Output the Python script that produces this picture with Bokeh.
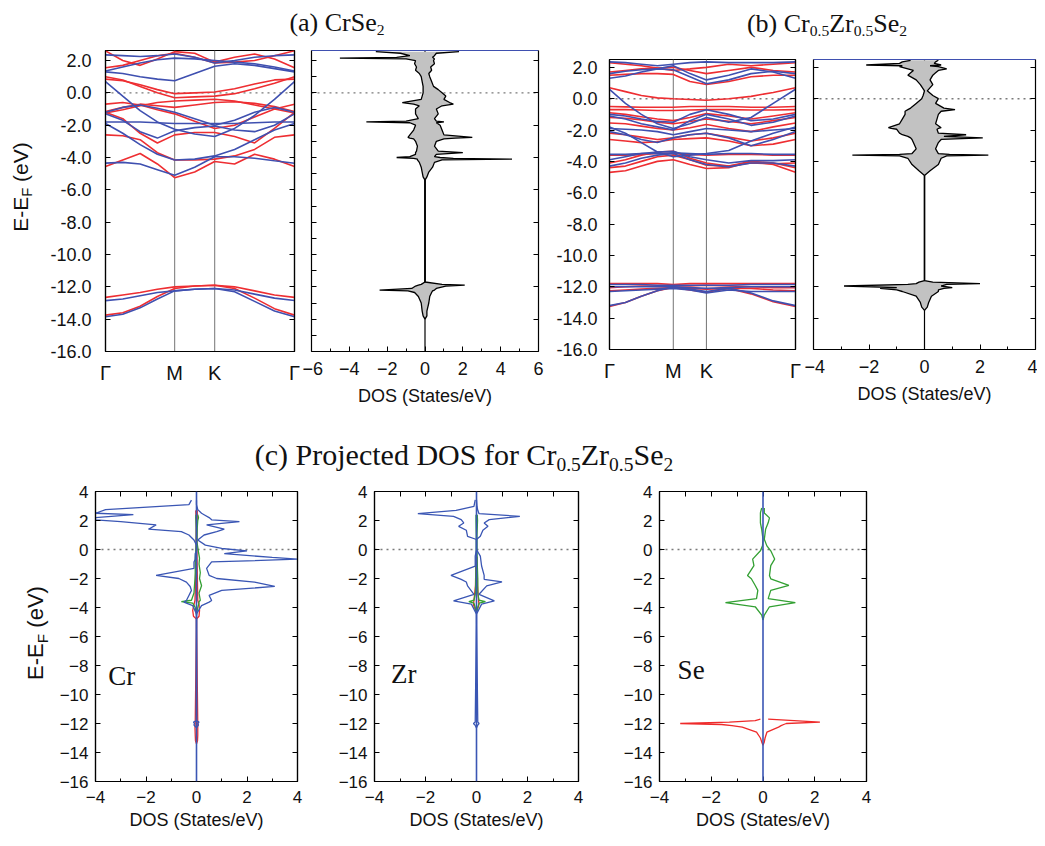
from bokeh.plotting import figure
from bokeh.models import Range1d, FixedTicker, LinearAxis, Span, Div, CustomJSTickFormatter, Spacer
from bokeh.layouts import row, column
from bokeh.embed import file_html
from bokeh.resources import INLINE
from bokeh.core.properties import value

# ---------------- data ----------------
K_POS_A = [0.0, 0.144, 0.289, 0.433, 0.577, 0.744, 0.911, 1.077, 1.244, 1.41, 1.577]
K_TICKS_A = [0.0, 0.577, 0.911, 1.577]
K_POS_B = [0.0, 0.135, 0.27, 0.406, 0.541, 0.682, 0.822, 1.011, 1.2, 1.388, 1.577]
K_TICKS_B = [0.0, 0.541, 0.822, 1.577]
K_LABELS = ["Γ", "M", "K", "Γ"]

BANDS_A_RED = [
    [-4.55, -4.15, -3.75, -4.4, -5.25, -4.9, -4.25, -4.4, -3.8, -4.1, -4.55],
    [-2.6, -2.65, -2.9, -3.7, -4.15, -4.15, -4.1, -3.9, -3.5, -2.75, -2.6],
    [-1.2, -1.6, -2.5, -3.1, -2.6, -2.45, -2.45, -2.7, -3.1, -2.2, -1.2],
    [-0.7, -0.6, -0.75, -1.05, -1.3, -1.75, -2.2, -2.0, -1.5, -1.0, -0.7],
    [-1.15, -0.9, -0.7, -0.8, -0.9, -0.75, -0.6, -0.55, -0.65, -0.85, -1.15],
    [1.0, 0.8, 0.4, 0.0, -0.3, -0.25, -0.2, -0.05, 0.25, 0.6, 1.0],
    [0.85, 0.75, 0.5, 0.2, -0.05, 0.0, 0.05, 0.25, 0.55, 0.8, 0.85],
    [-1.25, -1.05, -0.8, -0.6, -0.5, -0.45, -0.4, -0.5, -0.75, -1.0, -1.25],
    [2.6, 2.0, 1.7, 2.1, 2.55, 2.45, 1.9, 2.2, 2.4, 2.1, 1.55],
    [1.55, 1.7, 2.0, 2.3, 2.45, 2.2, 1.85, 1.9, 2.0, 2.3, 2.6],
    [-12.65, -12.5, -12.35, -12.15, -12.0, -11.95, -11.9, -12.0, -12.25, -12.5, -12.65],
    [-13.75, -13.6, -13.2, -12.6, -12.1, -11.95, -11.9, -12.1, -12.7, -13.35, -13.75],
]
BANDS_A_BLUE = [
    [-4.35, -4.3, -4.4, -4.75, -5.1, -4.6, -3.95, -3.95, -4.05, -4.2, -4.35],
    [-1.9, -2.5, -3.2, -3.8, -4.15, -4.1, -3.9, -3.5, -2.9, -2.3, -1.9],
    [0.7, -0.2, -1.1, -1.8, -2.25, -2.55, -2.7, -2.2, -1.4, -0.4, 0.7],
    [-1.2, -0.9, -0.75, -0.95, -1.2, -1.6, -2.0, -1.7, -1.2, -0.9, -1.2],
    [-1.8, -1.8, -1.8, -1.85, -1.9, -1.9, -1.9, -1.9, -1.85, -1.8, -1.8],
    [-1.3, -1.7, -2.4, -2.8, -2.35, -2.15, -2.05, -2.3, -2.4, -2.0, -1.3],
    [1.3, 1.2, 1.0, 0.85, 0.75, 1.2, 1.65, 1.8, 1.7, 1.5, 1.3],
    [1.35, 1.6, 1.85, 2.05, 2.15, 2.1, 2.0, 1.9, 1.8, 1.6, 1.35],
    [2.35, 2.3, 2.25, 2.3, 2.4, 2.2, 1.85, 2.0, 2.2, 2.3, 2.35],
    [-12.85, -12.75, -12.55, -12.35, -12.25, -12.15, -12.1, -12.2, -12.45, -12.7, -12.85],
    [-13.85, -13.7, -13.3, -12.75, -12.25, -12.15, -12.1, -12.3, -12.9, -13.5, -13.85],
]

BANDS_B_RED = [
    [0.7, 0.45, 0.2, 0.05, 0.0, -0.05, -0.1, 0.0, 0.15, 0.4, 0.7],
    [-0.5, -0.52, -0.55, -0.55, -0.55, -0.5, -0.5, -0.5, -0.55, -0.55, -0.5],
    [-0.7, -0.7, -0.72, -0.75, -0.75, -0.72, -0.7, -0.7, -0.72, -0.72, -0.7],
    [-0.9, -1.0, -1.15, -1.3, -1.4, -1.2, -0.95, -1.1, -1.3, -1.1, -0.9],
    [-1.2, -1.25, -1.35, -1.5, -1.6, -1.45, -1.3, -1.45, -1.6, -1.4, -1.2],
    [-1.55, -1.6, -1.75, -1.9, -2.0, -1.85, -1.65, -1.9, -2.1, -1.8, -1.55],
    [-2.2, -2.3, -2.45, -2.6, -2.5, -2.3, -2.2, -2.45, -2.7, -2.5, -2.2],
    [-2.6, -2.7, -2.8, -2.75, -2.6, -2.55, -2.5, -2.7, -3.0, -2.9, -2.6],
    [-3.6, -3.6, -3.55, -3.5, -3.5, -3.55, -3.6, -3.55, -3.55, -3.6, -3.6],
    [-4.1, -3.9, -3.6, -3.4, -3.35, -3.8, -4.1, -4.3, -4.1, -4.15, -4.1],
    [-4.7, -4.6, -4.3, -4.0, -3.9, -4.2, -4.45, -4.4, -4.0, -4.2, -4.7],
    [-4.4, -4.3, -4.0, -3.7, -3.6, -3.9, -4.25, -4.3, -4.0, -4.1, -4.4],
    [1.5, 1.55, 1.6, 1.6, 1.55, 1.1, 0.9, 1.1, 1.4, 1.5, 1.5],
    [1.7, 1.8, 1.9, 1.95, 2.0, 1.8, 1.6, 1.8, 2.0, 1.8, 1.7],
    [2.3, 2.2, 2.1, 1.95, 1.8, 1.9, 2.0, 2.2, 2.1, 2.2, 2.3],
    [-11.8, -11.8, -11.8, -11.8, -11.85, -11.8, -11.8, -11.8, -11.8, -11.8, -11.8],
    [-12.05, -12.0, -11.95, -11.95, -11.95, -11.95, -11.9, -11.95, -12.0, -12.05, -12.05],
    [-12.25, -12.2, -12.15, -12.1, -12.05, -12.1, -12.15, -12.1, -12.1, -12.2, -12.25],
    [-13.25, -13.0, -12.6, -12.25, -12.05, -12.2, -12.35, -12.1, -12.45, -12.95, -13.25],
]
BANDS_B_BLUE = [
    [0.6, -0.3, -1.0, -1.6, -1.9, -1.6, -1.2, -1.5, -1.2, -0.3, 0.6],
    [1.6, 1.75, 1.85, 1.9, 1.85, 1.4, 0.95, 1.2, 1.6, 1.75, 1.6],
    [1.3, 1.45, 1.7, 1.9, 2.1, 1.6, 1.2, 1.5, 1.9, 1.7, 1.3],
    [2.35, 2.3, 2.2, 2.1, 2.2, 2.3, 2.35, 2.3, 2.3, 2.3, 2.35],
    [-1.0, -1.1, -1.3, -1.45, -1.5, -1.0, -0.7, -1.0, -1.4, -1.3, -1.0],
    [-1.1, -1.3, -1.6, -1.8, -2.0, -1.4, -1.0, -1.3, -1.7, -1.5, -1.1],
    [-1.9, -1.95, -2.0, -2.1, -2.3, -2.1, -1.9, -2.0, -2.1, -2.0, -1.9],
    [-2.1, -2.3, -2.6, -2.8, -2.5, -2.3, -2.2, -2.5, -3.0, -2.6, -2.1],
    [-1.8, -2.2, -2.8, -3.4, -3.7, -3.6, -3.5, -3.3, -2.7, -2.2, -1.8],
    [-3.55, -3.55, -3.5, -3.5, -3.45, -3.5, -3.55, -3.5, -3.5, -3.55, -3.55],
    [-3.9, -3.7, -3.5, -3.4, -3.35, -3.7, -3.9, -4.1, -3.95, -3.95, -3.9],
    [-4.3, -4.1, -3.8, -3.6, -3.5, -3.9, -4.2, -4.35, -4.1, -4.1, -4.3],
    [-11.85, -11.85, -11.85, -11.9, -11.9, -11.9, -11.9, -11.9, -11.85, -11.85, -11.85],
    [-12.0, -12.0, -12.0, -12.0, -12.0, -12.05, -12.1, -12.05, -12.0, -12.0, -12.0],
    [-12.3, -12.25, -12.2, -12.15, -12.1, -12.2, -12.4, -12.2, -12.3, -12.3, -12.3],
    [-13.2, -13.0, -12.6, -12.25, -12.0, -12.15, -12.3, -12.1, -12.4, -12.9, -13.2],
]

# total DOS, CrSe2
DOS_A_E = [2.55, 2.45, 2.3, 2.2, 2.15, 2.1, 2.0, 1.8, 1.6, 1.4,
           1.2, 1.0, 0.7, 0.4, 0.2, 0.0, -0.2, -0.4, -0.6, -0.7,
           -0.8, -1.0, -1.3, -1.6, -1.75, -1.8, -1.85, -2.0, -2.3, -2.6,
           -2.75, -2.8, -2.85, -3.0, -3.3, -3.6, -3.7, -3.8, -3.95, -4.0,
           -4.05, -4.1, -4.15, -4.3, -4.6, -4.9, -5.2, -5.4, -11.7, -11.85,
           -11.9, -11.95, -12.1, -12.2, -12.25, -12.35, -12.6, -13.0, -13.5, -13.8,
           -14.0]
DOS_A_UP = [1.8, 0.6, 0.5, 0.4, 0.45, 0.5, 0.45, 0.5, 0.3, 0.35,
            0.2, 0.25, 0.35, 0.45, 0.7, 0.9, 1.1, 1.0, 1.3, 1.5,
            0.9, 0.6, 0.7, 0.5, 0.6, 1.0, 0.6, 0.8, 0.9, 1.0,
            2.5, 1.6, 1.0, 0.6, 0.5, 0.7, 2.0, 0.6, 0.5, 0.8,
            1.5, 4.6, 0.9, 0.5, 0.4, 0.2, 0.1, 0.0, 0.0, 0.9,
            2.1, 1.1, 0.6, 0.5, 0.4, 0.35, 0.25, 0.2, 0.1, 0.1,
            0.0]
DOS_A_DN = [-2.6, -1.3, -0.8, -1.5, -4.5, -1.0, -0.5, -0.55, -0.45, -0.5,
            -0.3, -0.2, -0.15, -0.1, -0.1, -0.1, -0.15, -0.2, -1.2, -0.6,
            -0.3, -0.5, -0.5, -0.35, -1.0, -3.1, -0.8, -0.5, -0.6, -0.8,
            -0.9, -0.8, -0.6, -0.5, -0.4, -0.45, -0.5, -0.5, -0.8, -1.5,
            -0.6, -0.4, -0.4, -0.3, -0.2, -0.15, -0.1, 0.0, 0.0, -0.2,
            -0.35, -0.5, -0.7, -2.4, -0.9, -0.55, -0.35, -0.2, -0.15, -0.1,
            0.0]

# total DOS, Cr0.5Zr0.5Se2
DOS_B_E = [2.45, 2.35, 2.25, 2.15, 2.1, 2.05, 1.9, 1.8, 1.65, 1.5,
           1.2, 0.9, 0.5, 0.2, 0.0, -0.3, -0.6, -0.7, -0.8, -1.0,
           -1.3, -1.6, -1.85, -1.9, -1.95, -2.2, -2.3, -2.4, -2.5, -2.6,
           -2.8, -3.2, -3.5, -3.55, -3.6, -3.65, -3.8, -4.2, -4.6, -4.9,
           -11.6, -11.7, -11.8, -11.85, -11.95, -12.05, -12.1, -12.2, -12.3, -12.6,
           -13.0, -13.3, -13.5]
DOS_B_UP = [0.5, 0.4, 0.35, 0.6, 0.2, 0.5, 0.8, 0.5, 0.4, 0.3,
            0.2, 0.3, 0.1, 0.3, 0.5, 0.4, 0.7, 1.1, 0.6, 0.5,
            0.45, 0.4, 0.6, 0.5, 0.45, 0.5, 1.5, 0.7, 2.1, 0.6,
            0.5, 0.4, 0.5, 0.9, 2.3, 0.8, 0.6, 0.5, 0.2, 0.0,
            0.0, 0.3, 2.0, 0.8, 0.6, 1.0, 0.7, 0.5, 0.5, 0.25,
            0.15, 0.1, 0.0]
DOS_B_DN = [-0.5, -0.8, -0.9, -2.1, -0.8, -0.9, -0.6, -0.4, -0.5, -0.6,
            -0.3, -0.15, 0.0, -0.05, -0.1, -0.3, -0.5, -0.6, -0.7, -0.7,
            -0.8, -0.9, -1.3, -1.2, -1.0, -0.9, -0.8, -0.6, -0.5, -0.45,
            -0.4, -0.3, -0.45, -0.9, -2.6, -0.9, -0.6, -0.45, -0.2, 0.0,
            0.0, -0.2, -0.3, -0.6, -2.9, -1.0, -1.6, -1.0, -0.8, -0.3,
            -0.15, -0.1, 0.0]

# projected DOS: Cr d (blue), p (green), s (red)
CR_D_E = [3.4, 3.1, 2.75, 2.5, 2.4, 2.2, 2.05, 1.92, 1.7, 1.4,
          1.23, 1.0, 0.65, 0.3, 0.07, -0.1, -0.28, -0.55, -0.67, -0.86,
          -1.3, -1.78, -2.0, -2.25, -2.55, -2.82, -3.17, -3.52, -3.63, -3.87,
          -4.44, -11.8, -11.9, -12.0, -12.1, -12.3]
CR_D_UP = [0.0, 0.0, 0.05, 0.2, 0.3, 0.5, 0.6, 1.7, 0.4, 1.1,
           0.8, 0.3, 0.05, 0.35, 1.0, 2.0, 1.1, 3.0, 4.0, 0.6,
           0.4, 0.5, 0.8, 2.3, 3.1, 1.0, 0.5, 0.6, 0.5, 0.2,
           0.0, 0.0, 0.1, 0.05, 0.08, 0.0]
CR_D_DN = [-0.2, -0.3, -3.6, -4.0, -2.5, -4.0, -4.0, -3.0, -1.6, -1.9,
           -0.6, -0.3, -0.1, 0.0, 0.0, 0.0, -0.05, -0.05, -0.05, -0.1,
           -0.1, -1.6, -0.7, -0.4, -0.25, -0.2, -0.3, -0.4, -0.5, -0.15,
           0.0, 0.0, -0.12, -0.08, -0.1, 0.0]
CR_P_E = [2.4, 2.2, 2.0, 1.5, 0.5, -0.2, -0.6, -1.0, -1.6, -2.0, -2.5, -3.0, -3.5, -3.6, -3.7, -4.0, -4.5]
CR_P_UP = [0.05, 0.08, 0.05, 0.03, 0.02, 0.08, 0.12, 0.1, 0.15, 0.12, 0.2, 0.1, 0.15, 0.1, 0.1, 0.05, 0.0]
CR_P_DN = [-0.02, -0.03, -0.02, -0.01, -0.01, -0.03, -0.05, -0.05, -0.05, -0.06, -0.08, -0.1, -0.2, -0.6, -0.15, -0.05, 0.0]
CR_S_E = [2.7, 2.3, 1.5, -0.5, -1.5, -2.5, -3.5, -3.8, -4.2, -4.6, -4.8, -11.9, -12.3, -12.8, -13.2, -13.4]
CR_S_UP = [0.03, 0.03, 0.01, 0.02, 0.03, 0.04, 0.05, 0.1, 0.12, 0.1, 0.0, 0.05, 0.05, 0.05, 0.04, 0.0]
CR_S_DN = [-0.03, -0.02, -0.01, -0.02, -0.03, -0.04, -0.06, -0.1, -0.15, -0.12, 0.0, -0.05, -0.06, -0.05, -0.04, 0.0]

ZR_D_E = [3.43, 2.97, 2.7, 2.47, 2.29, 2.06, 1.83, 1.6, 1.33, 0.91,
          0.69, 0.0, -0.46, -1.14, -1.78, -2.06, -2.24, -2.51, -3.09, -3.54,
          -3.77, -4.46, -11.9, -12.0, -12.1, -12.3]
ZR_D_UP = [0.0, 0.02, 0.05, 0.1, 1.7, 0.5, 0.3, 0.45, 0.25, 0.15,
           0.0, 0.0, 0.15, 0.2, 0.3, 0.3, 1.0, 0.4, 0.1, 0.7,
           0.2, 0.0, 0.05, 0.1, 0.05, 0.0]
ZR_D_DN = [-0.05, -0.1, -0.8, -2.3, -0.9, -0.6, -0.5, -0.7, -0.4, -0.35,
           0.0, 0.0, -0.05, -0.05, -1.0, -0.6, -0.4, -0.35, -0.1, -0.9,
           -0.2, 0.0, -0.05, -0.12, -0.06, 0.0]
ZR_P_E = [2.4, 2.0, 1.0, 0.0, -1.0, -2.0, -3.0, -3.5, -3.6, -3.7, -4.0, -4.4]
ZR_P_UP = [0.03, 0.04, 0.02, 0.02, 0.03, 0.05, 0.05, 0.1, 0.35, 0.1, 0.05, 0.0]
ZR_P_DN = [-0.02, -0.02, -0.01, -0.01, -0.02, -0.03, -0.04, -0.1, -0.3, -0.1, -0.05, 0.0]
ZR_S_E = [-0.5, -1.5, -2.5, -3.5, -3.8, -4.0, -4.3]
ZR_S_UP = [0.02, 0.03, 0.04, 0.08, 0.1, 0.06, 0.0]
ZR_S_DN = [-0.02, -0.03, -0.04, -0.1, -0.12, -0.08, 0.0]

SE_P_E = [2.86, 2.52, 2.18, 1.84, 1.39, 0.7, 0.25, -0.09, -0.66, -1.11,
          -1.8, -2.02, -2.48, -2.82, -3.39, -3.66, -3.95, -4.52, -4.86]
SE_P_UP = [0.05, 0.05, 0.25, 0.2, 0.1, 0.05, 0.15, 0.3, 0.45, 0.3,
           0.25, 0.3, 1.0, 0.3, 0.2, 1.25, 0.25, 0.05, 0.0]
SE_P_DN = [-0.05, -0.1, -0.1, -0.1, -0.05, 0.0, -0.02, -0.1, -0.4, -0.35,
           -0.6, -0.45, -0.3, -0.2, -0.25, -1.45, -0.3, -0.05, 0.0]
SE_S_E = [-11.7, -11.8, -11.9, -12.0, -12.07, -12.15, -12.25, -12.6, -13.0, -13.27, -13.5]
SE_S_UP = [0.2, 1.2, 2.2, 0.9, 0.8, 0.7, 0.6, 0.15, 0.08, 0.05, 0.0]
SE_S_DN = [-0.1, -0.3, -1.3, -3.2, -1.6, -1.2, -0.8, -0.25, -0.1, -0.05, 0.0]

# ---------------- styling ----------------
RED = "#ee2e32"
BLUE = "#3f50b0"
PBLUE = "#3a56b4"
GREEN = "#33a033"
PRED = "#ee2a2a"
GRAYFILL = "#c2c2c2"
MINUS = "\u2212"
SANS = "Liberation Sans"
SERIF = "Liberation Serif"


def base_fig(w, h, xr, yr, bl, br, bt, bb, outline=True):
    p = figure(width=w, height=h, x_range=Range1d(*xr), y_range=Range1d(*yr),
               output_backend="svg", toolbar_location=None, title=None,
               min_border_left=bl, min_border_right=br,
               min_border_top=bt, min_border_bottom=bb)
    p.xgrid.visible = False
    p.ygrid.visible = False
    p.outline_line_color = "black" if outline else None
    p.outline_line_width = 1.2
    p.background_fill_color = "white"
    p.border_fill_color = "white"
    return p


def style_axis(ax, ticks, minor=(), labels=None, size="18px", standoff=10,
               color="black", tick_in=5):
    ax.ticker = FixedTicker(ticks=list(ticks), minor_ticks=list(minor))
    ax.major_tick_in = tick_in
    ax.major_tick_out = 0
    ax.minor_tick_in = 3
    ax.minor_tick_out = 0
    ax.axis_line_color = color
    ax.axis_line_width = 1.2
    ax.major_tick_line_color = "black"
    ax.minor_tick_line_color = "black"
    if labels is None:
        ax.formatter = CustomJSTickFormatter(code="return ''")
        ax.major_label_text_font_size = "0px"
        ax.major_label_standoff = 0
    else:
        ax.major_label_overrides = {t: l for t, l in zip(ticks, labels)}
        ax.major_label_text_font = SANS
        ax.major_label_text_font_size = size
        ax.major_label_text_color = "#111111"
        ax.major_label_standoff = standoff


def add_axis(p, side, ticks, minor=(), color="black"):
    ax = LinearAxis()
    style_axis(ax, ticks, minor, None, color=color)
    p.add_layout(ax, side)


def xlabel(ax, text, size="18px", standoff=8):
    ax.axis_label = text
    ax.axis_label_text_font = SANS
    ax.axis_label_text_font_size = size
    ax.axis_label_text_font_style = "normal"
    ax.axis_label_text_color = "#111111"
    ax.axis_label_standoff = standoff


def fermi(p):
    p.add_layout(Span(location=0, dimension="width", line_color="#7a7a7a",
                      line_dash="2 4", line_width=1.4, level="underlay"))


TOP_YT = list(range(-16, 3, 2))
TOP_YL = [f"{t:.1f}" for t in TOP_YT]
BOT_YT = list(range(-16, 5, 2))
BOT_YL = [(MINUS + str(-t)) if t < 0 else str(t) for t in BOT_YT]


def band_fig(w, h, bl, br, bt, bb, ytop, kpos, kticks, red, blue, ystand):
    p = base_fig(w, h, (0, 1.577), (-16, ytop), bl, br, bt, bb)
    style_axis(p.yaxis[0], TOP_YT, labels=TOP_YL, size="18px", standoff=ystand)
    style_axis(p.xaxis[0], kticks, labels=K_LABELS, size="20px", standoff=10, tick_in=0)
    add_axis(p, "right", TOP_YT)
    for k in kticks[1:3]:
        p.add_layout(Span(location=k, dimension="height", line_color="#808080",
                          line_width=1.1, level="underlay"))
    fermi(p)
    p.multi_line([kpos] * len(red), red, line_color=RED, line_width=1.6)
    p.multi_line([kpos] * len(blue), blue, line_color=BLUE, line_width=1.6)
    return p


def dos_fig(w, h, bl, br, bt, bb, xr, ytop, E, up, dn, left_ticks, xt, xminor):
    p = base_fig(w, h, xr, (-16, ytop), bl, br, bt, bb, outline=False)
    style_axis(p.yaxis[0], left_ticks, labels=None)
    xl = [(MINUS + str(-t)) if t < 0 else str(t) for t in xt]
    style_axis(p.xaxis[0], xt, xminor, labels=xl, size="18px", standoff=10)
    xlabel(p.xaxis[0], "DOS (States/eV)", standoff=8)
    add_axis(p, "right", TOP_YT)
    add_axis(p, "above", [], color=BLUE)
    p.add_layout(Span(location=0, dimension="height", line_color="black",
                      line_width=1.2, level="underlay"))
    fermi(p)
    p.harea(x1=dn, x2=up, y=E, fill_color=GRAYFILL, fill_alpha=1.0)
    p.line(up, E, line_color="black", line_width=1.3)
    p.line(dn, E, line_color="black", line_width=1.3)
    return p


def pdos_fig(w, bl, br, bt, bb, name, name_pos, series):
    p = base_fig(w, 364, (-4, 4), (-16, 4), bl, br, bt, bb)
    style_axis(p.yaxis[0], BOT_YT, labels=BOT_YL, size="17px", standoff=7)
    xt = [-4, -2, 0, 2, 4]
    xl = [(MINUS + str(-t)) if t < 0 else str(t) for t in xt]
    style_axis(p.xaxis[0], xt, [-3, -1, 1, 3], labels=xl, size="17px", standoff=9)
    xlabel(p.xaxis[0], "DOS (States/eV)", standoff=4)
    add_axis(p, "right", BOT_YT)
    add_axis(p, "above", [-4, -3, -2, -1, 0, 1, 2, 3, 4])
    fermi(p)
    for E, up, dn, col in series:
        p.line(up, E, line_color=col, line_width=1.3)
        p.line(dn, E, line_color=col, line_width=1.3)
    p.add_layout(Span(location=0, dimension="height", line_color=PBLUE,
                      line_width=1.6, level="overlay"))
    p.text(x=[name_pos[0]], y=[name_pos[1]], text=[name], text_font=value(SERIF),
           text_font_size="27px", text_baseline="middle", text_align="left",
           text_color="#111111")
    return p


# ---------------- top row ----------------
f1 = band_fig(266, 373, 69, 8, 10, 62, 2.62, K_POS_A, K_TICKS_A, BANDS_A_RED, BANDS_A_BLUE, 14)
f2 = dos_fig(243, 373, 9, 7, 10, 62, (-6, 6), 2.62, DOS_A_E, DOS_A_UP, DOS_A_DN,
             list(range(-16, 3)), [-6, -4, -2, 0, 2, 4, 6], [-5, -3, -1, 1, 3, 5])
f3 = band_fig(259, 364, 64, 9, 10, 64, 2.5, K_POS_B, K_TICKS_B, BANDS_B_RED, BANDS_B_BLUE, 12)
f4 = dos_fig(233, 364, 9, 2, 10, 64, (-4, 4), 2.5, DOS_B_E, DOS_B_UP, DOS_B_DN,
             TOP_YT, [-4, -2, 0, 2, 4], [-3, -1, 1, 3])

# ---------------- bottom row ----------------
f5 = pdos_fig(279, 38, 38, 17, 57, "Cr", (-3.5, -8.7),
              [(CR_S_E, CR_S_UP, CR_S_DN, PRED), (CR_P_E, CR_P_UP, CR_P_DN, GREEN),
               (CR_D_E, CR_D_UP, CR_D_DN, PBLUE)])
f6 = pdos_fig(277, 38, 34, 17, 57, "Zr", (-3.35, -8.6),
              [(ZR_S_E, ZR_S_UP, ZR_S_DN, PRED), (ZR_P_E, ZR_P_UP, ZR_P_DN, GREEN),
               (ZR_D_E, ZR_D_UP, ZR_D_DN, PBLUE)])
f7 = pdos_fig(274, 47, 20, 17, 57, "Se", (-3.3, -8.3),
              [(SE_S_E, SE_S_UP, SE_S_DN, PRED), (SE_P_E, SE_P_UP, SE_P_DN, GREEN)])

# ---------------- HTML text (titles, y labels) ----------------
def sub(t, pct="60%", shift="0.25em"):
    return f'<span style="font-size:{pct};position:relative;top:{shift};">{t}</span>'


def abs_text(left, top, html, font, size, rotate=False):
    tr = "translate(-50%,-50%) rotate(-90deg)" if rotate else "translateX(-50%)"
    return (f'<div style="position:absolute;left:{left}px;top:{top}px;transform:{tr};'
            f'white-space:nowrap;font-family:\'{font}\';font-size:{size}px;'
            f'line-height:{size}px;color:#111;">{html}</div>')


def box(w, h, inner):
    return f'<div style="position:relative;width:{w}px;height:{h}px;overflow:visible;">{inner}</div>'


def mkdiv(w, h, inner):
    return Div(width=w, height=h, margin=0, text=box(w, h, inner))


title_ab = mkdiv(1037, 40,
    abs_text(337, 10, "(a) CrSe" + sub("2"), SERIF, 26)
    + abs_text(827, 11, "(b) Cr" + sub("0.5") + "Zr" + sub("0.5") + "Se" + sub("2"), SERIF, 26))
title_c = mkdiv(1037, 61,
    abs_text(464, 27, "(c) Projected DOS for Cr" + sub("0.5", "65%", "0.3em") + "Zr"
             + sub("0.5", "65%", "0.3em") + "Se" + sub("2", "65%", "0.3em"), SERIF, 30))
ylab_top = mkdiv(36, 373,
    abs_text(22, 147, "E-E" + sub("F", "70%", "0.3em") + " (eV)", SANS, 21, rotate=True))
ylab_bot = mkdiv(56, 364,
    abs_text(37, 159, "E-E" + sub("F", "70%", "0.3em") + " (eV)", SANS, 22, rotate=True))

right_b = column(Spacer(width=492, height=9, margin=0), row(f3, f4, spacing=0), spacing=0)

layout = column(
    title_ab,
    row(ylab_top, f1, f2, right_b, spacing=0),
    title_c,
    row(ylab_bot, f5, f6, f7, spacing=0),
    spacing=0,
)

open("out.html", "w").write(file_html(layout, INLINE))
